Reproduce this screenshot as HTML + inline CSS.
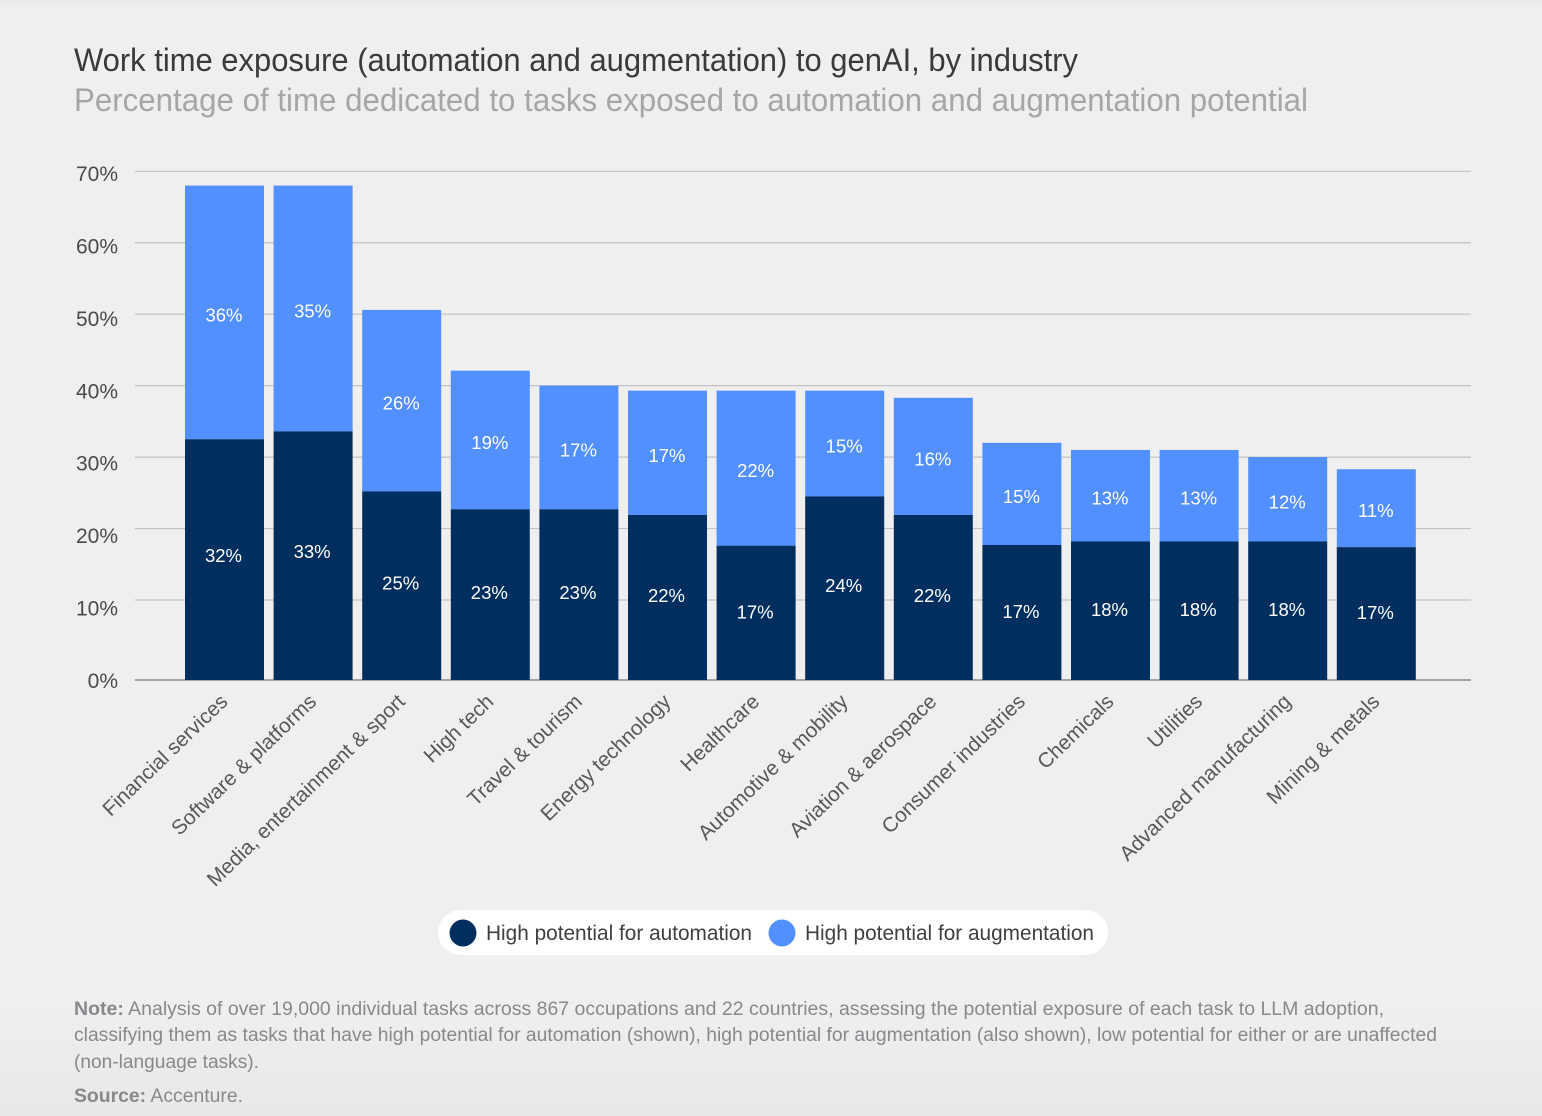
<!DOCTYPE html>
<html lang="en">
<head>
<meta charset="utf-8">
<title>Work time exposure to genAI, by industry</title>
<style>
html,body{margin:0;padding:0;width:1542px;height:1116px;overflow:hidden;background:#efefef;}
svg{display:block;font-family:"Liberation Sans",Arial,sans-serif;}
</style>
</head>
<body>
<svg id="chart" width="1542" height="1116" viewBox="0 0 1542 1116" xmlns="http://www.w3.org/2000/svg">
  <defs>
    <linearGradient id="bg-fade" x1="0" y1="0" x2="0" y2="1">
      <stop offset="0" stop-color="#e9e9e9"/>
      <stop offset="0.006" stop-color="#efefef"/>
      <stop offset="0.9" stop-color="#efefef"/>
      <stop offset="1" stop-color="#e8e8e8"/>
    </linearGradient>
  </defs>
  <rect x="0" y="0" width="1542" height="1116" fill="url(#bg-fade)"/>
  <text x="74" y="71" font-size="32" fill="#3a3a3a" textLength="1004" lengthAdjust="spacingAndGlyphs">Work time exposure (automation and augmentation) to genAI, by industry</text>
  <text x="74" y="111" font-size="32" fill="#a6a6a6" textLength="1234" lengthAdjust="spacingAndGlyphs">Percentage of time dedicated to tasks exposed to automation and augmentation potential</text>
  <g id="grid"></g>
  <g id="y-axis"></g>
  <g id="bars"></g>
  <g id="x-axis"></g>

  <g>
    <rect x="438" y="910" width="670" height="45" rx="22.5" fill="#ffffff"/>
    <circle cx="463" cy="933" r="13.5" fill="#002f5f"/>
    <text x="486" y="940" font-size="21" fill="#3f3f3f" textLength="266" lengthAdjust="spacingAndGlyphs">High potential for automation</text>
    <circle cx="782" cy="933" r="13.5" fill="#528fff"/>
    <text x="805" y="940" font-size="21" fill="#3f3f3f" textLength="289" lengthAdjust="spacingAndGlyphs">High potential for augmentation</text>
  </g>

  <g font-size="19" fill="#88888d">
    <text x="74" y="1015" textLength="1310" lengthAdjust="spacingAndGlyphs"><tspan font-weight="700">Note:</tspan> Analysis of over 19,000 individual tasks across 867 occupations and 22 countries, assessing the potential exposure of each task to LLM adoption,</text>
    <text x="74" y="1041" textLength="1363" lengthAdjust="spacingAndGlyphs">classifying them as tasks that have high potential for automation (shown), high potential for augmentation (also shown), low potential for either or are unaffected</text>
    <text x="74" y="1068" textLength="185" lengthAdjust="spacingAndGlyphs">(non-language tasks).</text>
    <text x="74" y="1102" textLength="169" lengthAdjust="spacingAndGlyphs"><tspan font-weight="700">Source:</tspan> Accenture.</text>
  </g>
</svg>
<script>
const categories = ["Financial services","Software & platforms","Media, entertainment & sport","High tech","Travel & tourism","Energy technology","Healthcare","Automotive & mobility","Aviation & aerospace","Consumer industries","Chemicals","Utilities","Advanced manufacturing","Mining & metals"];
const automationValues = [32.5,33.6,25.2,22.7,22.7,21.9,17.6,24.5,21.9,17.7,18.2,18.2,18.2,17.4];
const augmentationValues = [35.5,34.4,25.4,19.4,17.3,17.4,21.7,14.8,16.4,14.3,12.8,12.8,11.8,10.9];
const automationLabels = ["32%","33%","25%","23%","23%","22%","17%","24%","22%","17%","18%","18%","18%","17%"];
const augmentationLabels = ["36%","35%","26%","19%","17%","17%","22%","15%","16%","15%","13%","13%","12%","11%"];
const yTicks = [0,10,20,30,40,50,60,70];

const NS = "http://www.w3.org/2000/svg";
const baseY = 680, y10 = 600, y70 = 171.3;
const bandStart = 185, bandStep = 88.6, barWidth = 79;

// Reference gridlines are evenly spaced from 10 to 70; the 0 baseline sits lower.
function yScale(v) {
  if (v <= 10) return baseY - (baseY - y10) * v / 10;
  return y10 - (y10 - y70) * (v - 10) / 60;
}
function yTickLabelPos(v) { return 680 - v * 7.243; }
function xScale(i) { return bandStart + i * bandStep; }
function make(tag, attrs, parent, text) {
  const el = document.createElementNS(NS, tag);
  for (const k in attrs) el.setAttribute(k, attrs[k]);
  if (text !== undefined) el.textContent = text;
  parent.appendChild(el);
  return el;
}

const gridG = document.getElementById("grid");
const yG = document.getElementById("y-axis");
const barsG = document.getElementById("bars");
const xG = document.getElementById("x-axis");

yTicks.forEach(function (t) {
  const py = yScale(t);
  const line = make("line", {x1:135, x2:1471, y1:py, y2:py, stroke: t === 0 ? "#8a8a8a" : "#c3c3c3", "stroke-width": t === 0 ? 1.4 : 1.2}, gridG);
  
  
  const lab = make("text", {x:118, y:yTickLabelPos(t) + 8, "text-anchor":"end", "font-size":21, fill:"#4a4a4a"}, yG, t + "%");
  
  
});

categories.forEach(function (cat, i) {
  const x = xScale(i);
  const a = automationValues[i];
  const b = augmentationValues[i];
  const yA = yScale(a);
  const yT = yScale(a + b);
  const darkH = baseY - yA;

  const lightBar = make("rect", {x:x, y:yT, width:barWidth, height:yA - yT, fill:"#528fff"}, barsG);
  
  
  const darkBar = make("rect", {x:x, y:yA, width:barWidth, height:darkH, fill:"#002f5f"}, barsG);
  
  

  const lightLab = make("text", {x:x + barWidth / 2 - 0.5, y:(yT + yA) / 2 + 2.5 + 6.5, "text-anchor":"middle", "font-size":18.5, fill:"#ffffff"}, barsG, augmentationLabels[i]);
  
  
  const darkLab = make("text", {x:x + barWidth / 2 - 1, y:(yA + baseY) / 2 - 0.5 - (darkH - 135) * 0.03 + 6, "text-anchor":"middle", "font-size":18.5, fill:"#ffffff"}, barsG, automationLabels[i]);
  
  

  const cx = x + barWidth / 2 + 4.5;
  const tick = make("text", {transform:"translate(" + cx + ",703) rotate(-44)", "text-anchor":"end", "font-size":20.7, fill:"#585858"}, xG, cat);
  
  
});
</script>
</body>
</html>
